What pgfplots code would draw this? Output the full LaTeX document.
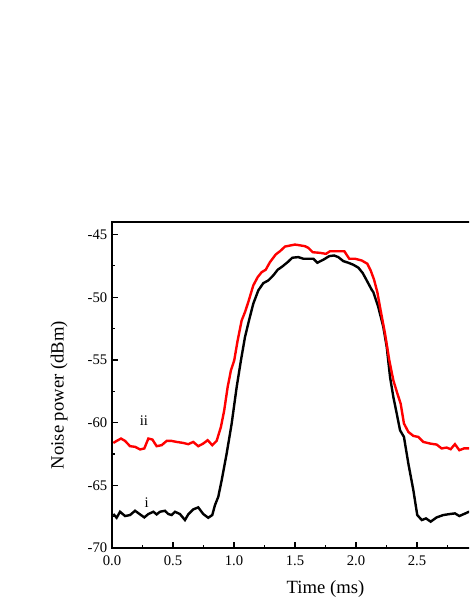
\documentclass[border=0pt]{standalone}
\usepackage{fontspec}
\setmainfont{Liberation Serif}
\usepackage{pgfplots}
\pgfplotsset{compat=1.18}
\begin{document}
\begin{tikzpicture}
\useasboundingbox (-84pt,-44.25pt) rectangle (267.75pt,411pt);
\clip (-84pt,-44.25pt) rectangle (267.75pt,411pt);
\begin{axis}[
  scale only axis,
  width=320.25pt, height=244.5pt,
  xmin=0, xmax=3.5, ymin=-70, ymax=-44,
  xtick={0,0.5,...,3.5}, ytick={-70,-65,...,-45},
  xticklabels={0.0,0.5,1.0,1.5,2.0,2.5,,},
  minor x tick num=1, minor y tick num=1,
  xtick pos=bottom, ytick pos=left,
  tick align=inside,
  major tick length=4.7pt, minor tick length=2.6pt,
  every tick/.style={black, line width=0.9pt},
  axis line style={line width=1pt},
  /pgf/number format/assume math mode=true,
  xticklabel shift=2.5pt,
  tick label style={font=\fontsize{11}{13}\selectfont},
  label style={font=\fontsize{14}{17}\selectfont},
  xlabel={Time (ms)},
  ylabel={Noise power (dBm)},
  xlabel style={at={(axis description cs:0.5,-0.126)}, anchor=center},
  ylabel style={at={(axis description cs:-0.124,0.469)}, anchor=center},
]
\addplot[black, line width=1.8pt] coordinates {
(0.011,-67.29) (0.038,-67.59) (0.066,-67.11) (0.107,-67.45) (0.148,-67.37) (0.189,-67.03)
(0.230,-67.32) (0.265,-67.56) (0.298,-67.29) (0.339,-67.11) (0.366,-67.32) (0.393,-67.11)
(0.434,-67.03) (0.461,-67.29) (0.489,-67.37) (0.516,-67.11) (0.557,-67.29) (0.598,-67.77)
(0.625,-67.32) (0.666,-66.92) (0.707,-66.76) (0.748,-67.29) (0.789,-67.59) (0.822,-67.37)
(0.844,-66.58) (0.871,-65.92) (0.899,-64.6) (0.940,-62.46) (0.981,-60.07) (1.022,-57.16)
(1.057,-55.03) (1.090,-53.18) (1.123,-51.85) (1.158,-50.52) (1.199,-49.46) (1.240,-48.88)
(1.281,-48.66) (1.322,-48.26) (1.358,-47.81) (1.396,-47.55) (1.440,-47.20) (1.478,-46.85)
(1.527,-46.80) (1.568,-46.93) (1.650,-46.93) (1.683,-47.25) (1.732,-47.01) (1.781,-46.72)
(1.820,-46.67) (1.855,-46.80) (1.896,-47.12) (1.937,-47.25) (1.978,-47.41) (2.019,-47.64)
(2.055,-48.07) (2.088,-48.66) (2.129,-49.41) (2.142,-49.59) (2.183,-50.79) (2.224,-52.38)
(2.252,-53.97) (2.279,-56.36) (2.306,-57.95) (2.334,-59.28) (2.361,-60.61) (2.393,-61.14)
(2.429,-63.26) (2.470,-65.38) (2.502,-67.37) (2.539,-67.77) (2.574,-67.64) (2.612,-67.90)
(2.661,-67.56) (2.716,-67.37) (2.770,-67.29) (2.811,-67.24) (2.847,-67.45) (2.885,-67.29)
(2.926,-67.11) (2.970,-67.20) (3.000,-67.30)
};
\addplot[red, line width=1.8pt] coordinates {
(0.011,-61.62) (0.038,-61.46) (0.074,-61.27) (0.107,-61.46) (0.148,-61.88) (0.189,-61.93)
(0.230,-62.14) (0.265,-62.06) (0.298,-61.27) (0.331,-61.35) (0.366,-61.88) (0.407,-61.80)
(0.448,-61.46) (0.489,-61.46) (0.530,-61.54) (0.584,-61.62) (0.625,-61.72) (0.666,-61.54)
(0.707,-61.88) (0.748,-61.67) (0.784,-61.40) (0.822,-61.80) (0.858,-61.45) (0.893,-60.34)
(0.920,-59.01) (0.948,-57.16) (0.975,-55.83) (1.002,-55.03) (1.030,-53.44) (1.063,-51.85)
(1.090,-51.19) (1.117,-50.39) (1.158,-49.06) (1.194,-48.40) (1.227,-48.00) (1.260,-47.81)
(1.295,-47.20) (1.342,-46.59) (1.377,-46.33) (1.418,-45.96) (1.459,-45.88) (1.500,-45.80)
(1.514,-45.82) (1.582,-45.93) (1.609,-46.06) (1.645,-46.41) (1.705,-46.46) (1.754,-46.54)
(1.787,-46.33) (1.842,-46.33) (1.904,-46.33) (1.945,-46.93) (1.992,-46.93) (2.047,-47.07)
(2.093,-47.33) (2.120,-47.86) (2.148,-48.60) (2.175,-49.60) (2.197,-50.79) (2.238,-52.91)
(2.273,-55.03) (2.306,-56.62) (2.339,-57.68) (2.366,-58.48) (2.393,-60.07) (2.429,-60.74)
(2.470,-61.06) (2.511,-61.14) (2.552,-61.54) (2.607,-61.67) (2.661,-61.75) (2.702,-62.06)
(2.743,-61.99) (2.776,-62.12) (2.811,-61.72) (2.847,-62.20) (2.885,-62.06) (2.926,-62.06)
(2.970,-62.00) (3.000,-62.10)
};
\node[font=\fontsize{11}{13}\selectfont] at (axis cs:0.262,-59.86) {ii};
\node[font=\fontsize{11}{13}\selectfont] at (axis cs:0.284,-66.39) {i};
\end{axis}
\end{tikzpicture}
\end{document}
